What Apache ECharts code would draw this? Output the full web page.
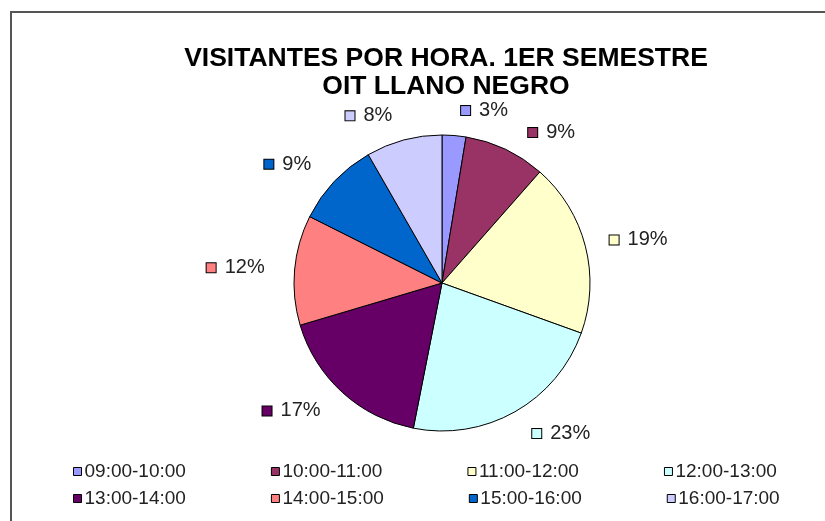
<!DOCTYPE html>
<html>
<head>
<meta charset="utf-8">
<script src="https://cdn.jsdelivr.net/npm/echarts@6/dist/echarts.min.js"></script>
<style>
  html, body { margin: 0; padding: 0; background: #fff; }
  #main { width: 825px; height: 521px; }
</style>
</head>
<body>
<div id="main"></div>
<script>
// franjas horarias
var horas = ['09:00-10:00', '10:00-11:00', '11:00-12:00', '12:00-13:00',
             '13:00-14:00', '14:00-15:00', '15:00-16:00', '16:00-17:00'];
// porcentaje de visitantes
var visitantes = [2.6, 8.9, 19.0, 22.6, 17.3, 12.0, 9.3, 8.3];
var colores = ['#9999FF', '#993366', '#FFFFCC', '#CCFFFF',
               '#660066', '#FF8080', '#0066CC', '#CCCCFF'];

var myChart = echarts.init(document.getElementById('main'));

var datos = horas.map(function (h, i) {
  return {
    name: h,
    value: visitantes[i],
    itemStyle: { color: colores[i] },
    label: {
      rich: {
        sq: { backgroundColor: colores[i], borderColor: '#000', borderWidth: 1, width: 9, height: 9 },
        v: { fontSize: 20, color: '#222', fontFamily: 'Liberation Sans, Arial', padding: [0, 0, 0, 9] }
      }
    }
  };
});

var legendStyle = {
  left: 73,
  padding: 0,
  orient: 'horizontal',
  icon: 'rect',
  itemWidth: 8,
  itemHeight: 8,
  itemGap: 85,
  itemStyle: { borderColor: '#000', borderWidth: 1 },
  textStyle: { fontSize: 19, color: '#222', fontFamily: 'Liberation Sans, Arial', padding: [0, 0, 0, -2] }
};

var option = {
  animation: false,
  backgroundColor: '#fff',
  title: {
    text: 'VISITANTES POR HORA. 1ER SEMESTRE\nOIT LLANO NEGRO',
    left: 441,
    top: 40,
    textAlign: 'center',
    textStyle: {
      fontSize: 26.5,
      fontWeight: 'bold',
      color: '#000',
      lineHeight: 28,
      fontFamily: 'Liberation Sans, Arial'
    }
  },
  legend: [
    Object.assign({ top: 462, data: horas.slice(0, 4) }, legendStyle),
    Object.assign({ top: 489, data: horas.slice(4) }, legendStyle)
  ],
  graphic: [{
    type: 'polyline',
    shape: { points: [[11, 521], [11, 12], [825, 12]] },
    style: { stroke: '#555', lineWidth: 2, fill: null }
  }],
  series: [{
    type: 'pie',
    center: [442, 283],
    radius: 148,
    startAngle: 90,
    clockwise: true,
    silent: true,
    itemStyle: { borderColor: '#000', borderWidth: 1 },
    label: {
      show: true,
      position: 'outside',
      formatter: function (p) {
        return '{sq|}{v|' + Math.round(p.percent) + '%}';
      }
    },
    labelLine: { show: false, length: 25, length2: 0 },
    data: datos
  }]
};

myChart.setOption(option);
</script>
</body>
</html>
